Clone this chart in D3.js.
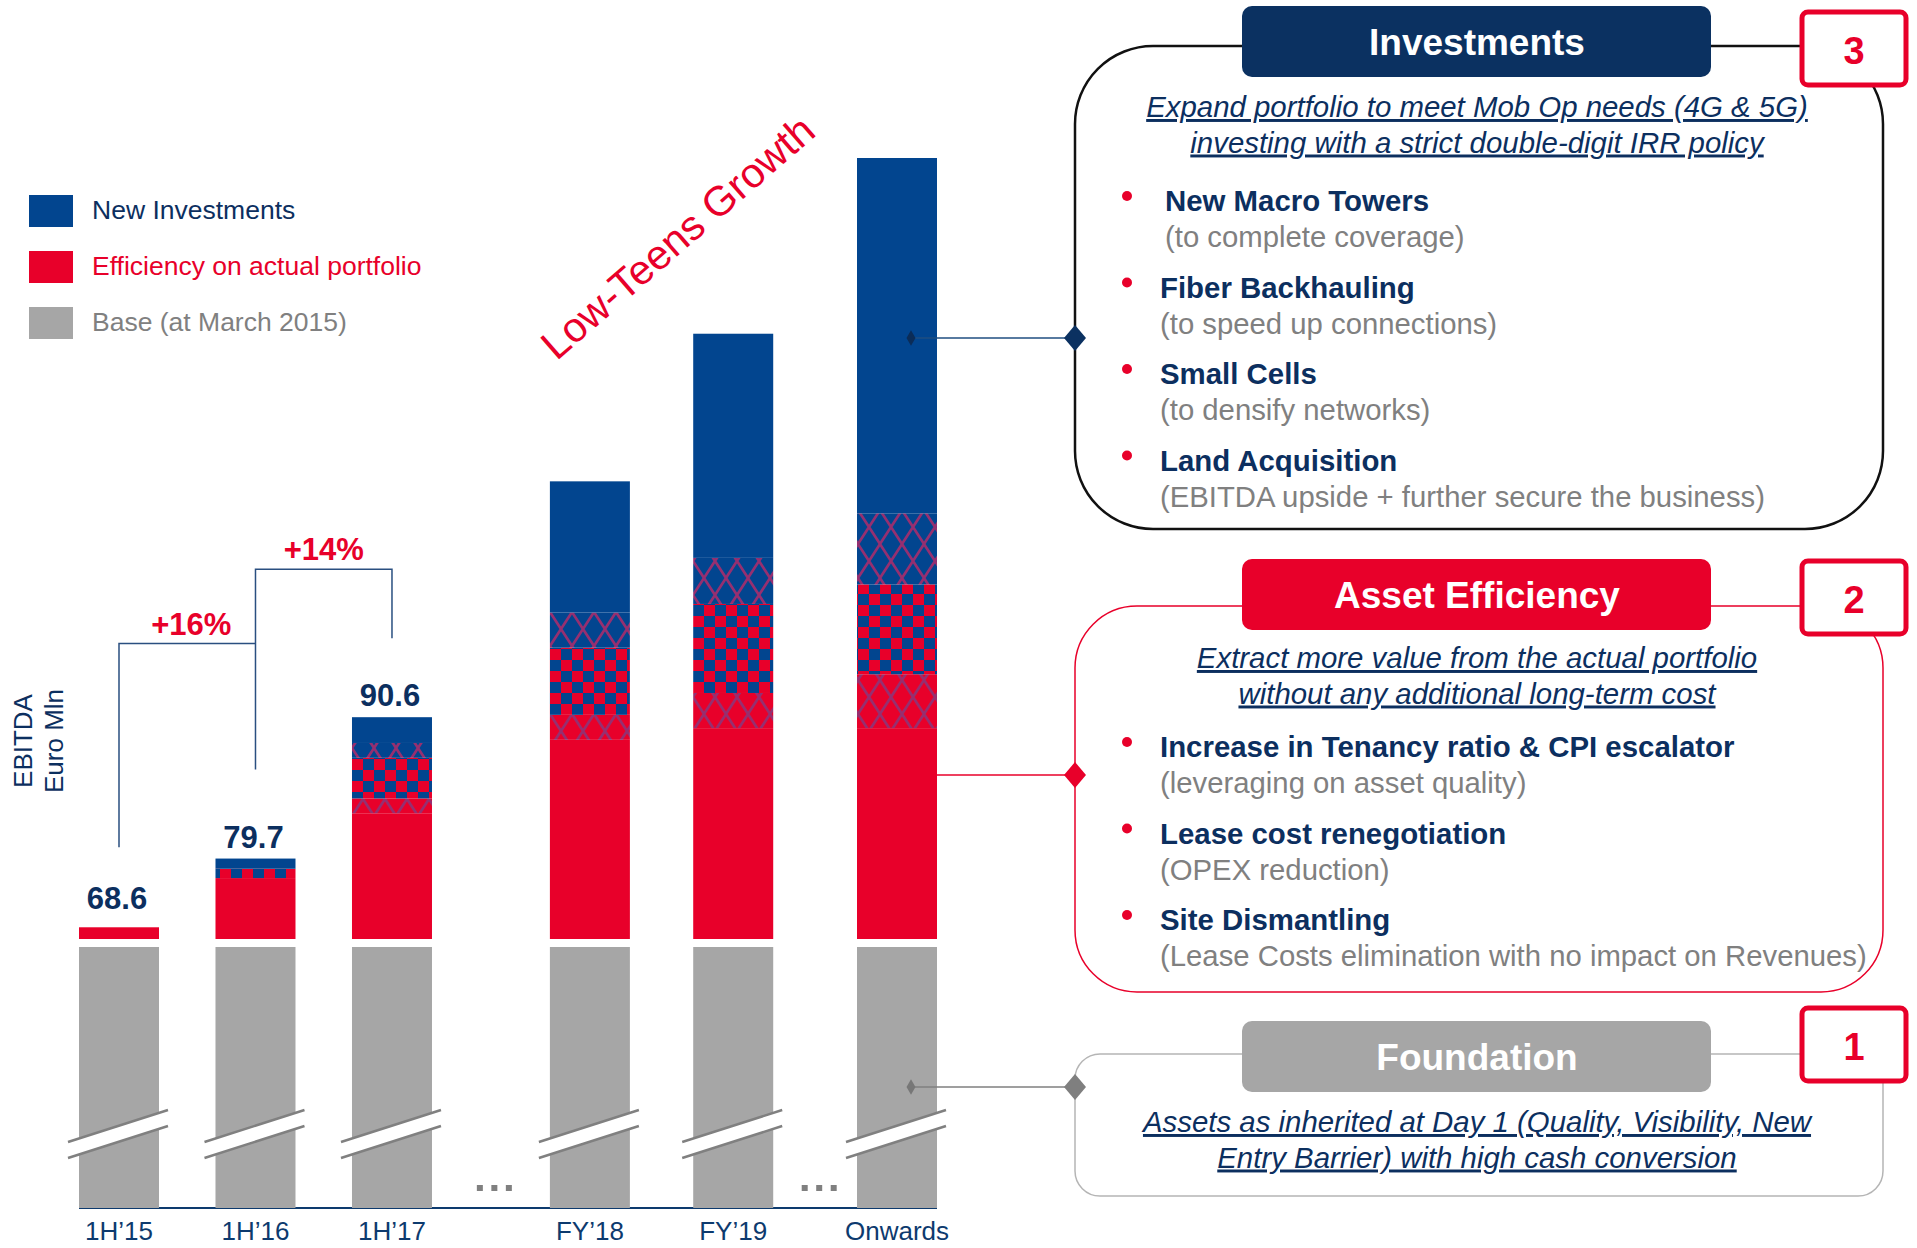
<!DOCTYPE html>
<html>
<head>
<meta charset="utf-8">
<script src="https://cdn.jsdelivr.net/npm/d3@7"></script>
<style>
  body { margin: 0; background: #fff; }
  svg { display: block; font-family: Arial, "Liberation Sans", sans-serif; }
</style>
</head>
<body>
<div id="chart"></div>
<script>
// ---- data ----
var periods = ["1H\u201915", "1H\u201916", "1H\u201917", "FY\u201918", "FY\u201919", "Onwards"];
var slots = [0, 1, 2, 3.45, 4.5, 5.7];          // position on the (broken) time axis
var gapSlots = [2.75, 5.13];                    // where the "..." sit
var ebitda = ["68.6", "79.7", "90.6", "", "", ""];
// stacked heights in index units (Onwards top = 100), base not to scale
var effSolid = [1.5, 7.8, 16.1, 25.5, 27.0, 27.0];
var effHatch = [0, 0, 1.9, 3.2, 4.5, 6.9];
var mixed    = [0, 1.2, 5.2, 8.6, 11.4, 11.5];
var invHatch = [0, 0, 1.9, 4.5, 5.9, 9.1];
var invSolid = [0, 1.3, 3.3, 16.8, 28.7, 45.5];
var growth = ["+16%", "+14%"];
var legendLabels = ["New Investments", "Efficiency on actual portfolio", "Base (at March 2015)"];

var pillarTitles = ["Investments", "Asset Efficiency", "Foundation"];
var pillarNums = ["3", "2", "1"];
var pillarIntro = [
  ["Expand portfolio to meet Mob Op needs (4G & 5G)", "investing with a strict double-digit IRR policy"],
  ["Extract more value from the actual portfolio", "without any additional long-term cost"],
  ["Assets as inherited at Day 1 (Quality, Visibility, New", "Entry Barrier) with high cash conversion"]
];
var pillarItems = [
  ["New Macro Towers", "Fiber Backhauling", "Small Cells", "Land Acquisition"],
  ["Increase in Tenancy ratio & CPI escalator", "Lease cost renegotiation", "Site Dismantling"],
  []
];
var pillarNotes = [
  ["(to complete coverage)", "(to speed up connections)", "(to densify networks)", "(EBITDA upside + further secure the business)"],
  ["(leveraging on asset quality)", "(OPEX reduction)", "(Lease Costs elimination with no impact on Revenues)"],
  []
];

// ---- colours ----
var BLUE = "#02458f", RED = "#e8002a", GREY = "#a6a6a6", NAVY = "#0c2f5f", TXTGREY = "#808080", HATCH = "#962f70";

var W = 1917, H = 1248;
var svg = d3.select("#chart").append("svg").attr("width", W).attr("height", H);

// patterns for the blended segments
var defs = svg.append("defs");
var chk = defs.append("pattern").attr("id", "chk").attr("patternUnits", "userSpaceOnUse")
  .attr("width", 22).attr("height", 22);
chk.append("rect").attr("width", 22).attr("height", 22).attr("fill", RED);
chk.append("rect").attr("width", 11).attr("height", 11).attr("fill", BLUE);
chk.append("rect").attr("x", 11).attr("y", 11).attr("width", 11).attr("height", 11).attr("fill", BLUE);

function hatch(id, bg) {
  var p = defs.append("pattern").attr("id", id).attr("patternUnits", "userSpaceOnUse")
    .attr("width", 22).attr("height", 34);
  p.append("rect").attr("width", 22).attr("height", 34).attr("fill", bg);
  p.append("path").attr("d", "M0,0L22,34M22,0L0,34").attr("stroke", HATCH).attr("stroke-width", 2.6);
}
hatch("xhB", BLUE);
hatch("xhR", RED);

var keys = ["effSolid", "effHatch", "mixed", "invHatch", "invSolid"];
var fills = { effSolid: RED, effHatch: "url(#xhR)", mixed: "url(#chk)", invHatch: "url(#xhB)", invSolid: BLUE };

var rows = periods.map(function (p, i) {
  return { period: p, slot: slots[i], label: ebitda[i],
    effSolid: effSolid[i], effHatch: effHatch[i], mixed: mixed[i], invHatch: invHatch[i], invSolid: invSolid[i] };
});
rows.forEach(function (r) { r.total = d3.sum(keys, function (k) { return r[k]; }); });

var x = d3.scaleLinear().domain([0, 5.7]).range([119, 897]);
var y = d3.scaleLinear().domain([0, 100]).range([939, 158]);
var barW = 80;
var baseTop = y(0) + 8, baseBottom = 1208;

// axis line
svg.append("line").attr("x1", x(0) - barW / 2).attr("x2", x(5.7) + barW / 2)
  .attr("y1", baseBottom).attr("y2", baseBottom).attr("stroke", "#0d3a6e").attr("stroke-width", 2);

// grey base (broken)
var base = svg.append("g");
base.selectAll("rect").data(rows).enter().append("rect")
  .attr("x", function (d) { return x(d.slot) - barW / 2; })
  .attr("y", baseTop).attr("width", barW).attr("height", baseBottom - baseTop)
  .attr("fill", GREY);
var brk = base.selectAll("g.brk").data(rows).enter().append("g").attr("class", "brk");
brk.append("path")
  .attr("d", function (d) { var c = x(d.slot);
    return "M" + (c - 51) + ",1142L" + (c + 49) + ",1110L" + (c + 49) + ",1126L" + (c - 51) + ",1158Z"; })
  .attr("fill", "#fff");
brk.append("path")
  .attr("d", function (d) { var c = x(d.slot);
    return "M" + (c - 51) + ",1142L" + (c + 49) + ",1110M" + (c - 51) + ",1158L" + (c + 49) + ",1126"; })
  .attr("stroke", "#808080").attr("stroke-width", 2.5).attr("fill", "none");

// dots
gapSlots.forEach(function (s) {
  svg.append("g").selectAll("rect").data([-1, 0, 1]).enter().append("rect")
    .attr("x", function (k) { return x(s) + k * 14.5 - 3; }).attr("y", 1185)
    .attr("width", 6).attr("height", 6).attr("fill", "#808080");
});

// stacked bars
var series = d3.stack().keys(keys)(rows);
svg.append("g").selectAll("g").data(series).enter().append("g")
  .attr("fill", function (d) { return fills[d.key]; })
  .selectAll("rect").data(function (d) { return d; }).enter().append("rect")
  .attr("x", function (d) { return x(d.data.slot) - barW / 2; })
  .attr("width", barW)
  .attr("y", function (d) { return y(d[1]); })
  .attr("height", function (d) { return y(d[0]) - y(d[1]); });

// value labels
svg.append("g").selectAll("text").data(rows.filter(function (d) { return d.label; })).enter().append("text")
  .attr("x", function (d) { return x(d.slot) - 2; })
  .attr("y", function (d, i) { return y(d.total) - (i === 0 ? 18 : 11); })
  .attr("text-anchor", "middle").attr("font-size", 31).attr("font-weight", "bold").attr("fill", NAVY)
  .text(function (d) { return d.label; });

// x labels
svg.append("g").selectAll("text").data(rows).enter().append("text")
  .attr("x", function (d) { return x(d.slot); }).attr("y", 1240)
  .attr("text-anchor", "middle").attr("font-size", 26).attr("fill", "#0d3a6e")
  .text(function (d) { return d.period; });

// growth brackets
var tops = rows.map(function (d) { return y(d.total); });
var x0 = x(slots[0]), x1 = x(slots[1]), x2 = x(slots[2]);
var lvl1 = tops[1] - 215, lvl2 = tops[2] - 148;
var br = svg.append("g").attr("fill", "none").attr("stroke", "#2a4f80").attr("stroke-width", 1.5);
br.append("path").attr("d", "M" + x0 + "," + (tops[0] - 80) + "V" + lvl1 + "H" + x1);
br.append("path").attr("d", "M" + x1 + "," + (tops[1] - 89) + "V" + lvl2 + "H" + x2 + "V" + (tops[2] - 79));
svg.append("text").attr("x", (x0 + x1) / 2 + 4).attr("y", lvl1 - 9).attr("text-anchor", "middle")
  .attr("font-size", 31).attr("font-weight", "bold").attr("fill", RED).text(growth[0]);
svg.append("text").attr("x", (x1 + x2) / 2).attr("y", lvl2 - 9).attr("text-anchor", "middle")
  .attr("font-size", 31).attr("font-weight", "bold").attr("fill", RED).text(growth[1]);

// y label
svg.append("text").attr("transform", "translate(32,741) rotate(-90)").attr("text-anchor", "middle")
  .attr("font-size", 26).attr("fill", NAVY).text("EBITDA");
svg.append("text").attr("transform", "translate(63,741) rotate(-90)").attr("text-anchor", "middle")
  .attr("font-size", 26).attr("fill", NAVY).text("Euro Mln");

// legend
var legColors = [BLUE, RED, GREY], legText = [NAVY, RED, TXTGREY];
var leg = svg.append("g").selectAll("g").data(legendLabels).enter().append("g")
  .attr("transform", function (d, i) { return "translate(29," + (195 + i * 56) + ")"; });
leg.append("rect").attr("width", 44).attr("height", 32).attr("fill", function (d, i) { return legColors[i]; });
leg.append("text").attr("x", 63).attr("y", 24).attr("font-size", 26.5)
  .attr("fill", function (d, i) { return legText[i]; }).text(function (d) { return d; });

// diagonal tagline
svg.append("text").attr("transform", "translate(687,248) rotate(-41)").attr("text-anchor", "middle")
  .attr("font-size", 41.5).attr("fill", RED).text("Low-Teens Growth");

// ---- right-hand pillars ----
var pl = 1075, pr = 1883, cx = 1477;
var panelTop = [46, 606, 1054], panelBot = [529, 992, 1196], panelR = [78, 62, 25];
var boxTop = [6, 559, 1021], numTop = [12, 561, 1008], diaY = [338, 775, 1087];
var boxFill = ["#0b3161", RED, GREY], panelStroke = ["#111", RED, "#b5b5b5"], panelSW = [2.5, 1.5, 1.5];
var diaFill = ["#0b3161", RED, "#7f7f7f"];
var introY = [117, 668, 1132], itemY = [211, 757];
var barRight = x(5.7) + barW / 2;
var connStart = [barRight - 26, barRight, barRight - 26];

pillarTitles.forEach(function (t, i) {
  var g = svg.append("g");
  // connector from the Onwards bar
  g.append("line").attr("x1", connStart[i]).attr("x2", pl).attr("y1", diaY[i]).attr("y2", diaY[i])
    .attr("stroke", i === 0 ? "#1f4e80" : diaFill[i]).attr("stroke-width", 1.5);
  if (i !== 1) {
    g.append("path").attr("d", d3.symbol(d3.symbolDiamond, 70)).attr("transform", "translate(" + connStart[i] + "," + diaY[i] + ")")
      .attr("fill", i === 0 ? "#0b2c57" : "#777");
  }
  g.append("rect").attr("x", pl).attr("y", panelTop[i]).attr("width", pr - pl)
    .attr("height", panelBot[i] - panelTop[i]).attr("rx", panelR[i])
    .attr("fill", "none").attr("stroke", panelStroke[i]).attr("stroke-width", panelSW[i]);
  g.append("path").attr("d", "M0,-13L11,0L0,13L-11,0Z").attr("transform", "translate(" + pl + "," + diaY[i] + ")")
    .attr("fill", diaFill[i]);
  // title box
  g.append("rect").attr("x", 1242).attr("y", boxTop[i]).attr("width", 469).attr("height", 71).attr("rx", 10)
    .attr("fill", boxFill[i]);
  g.append("text").attr("x", cx).attr("y", boxTop[i] + 49).attr("text-anchor", "middle")
    .attr("font-size", 37).attr("font-weight", "bold").attr("fill", "#fff").text(t);
  // number box
  g.append("rect").attr("x", 1802).attr("y", numTop[i]).attr("width", 104).attr("height", 73).attr("rx", 6)
    .attr("fill", "#fff").attr("stroke", RED).attr("stroke-width", 5);
  g.append("text").attr("x", 1854).attr("y", numTop[i] + 52).attr("text-anchor", "middle")
    .attr("font-size", 38).attr("font-weight", "bold").attr("fill", RED).text(pillarNums[i]);
  // intro
  pillarIntro[i].forEach(function (line, j) {
    g.append("text").attr("x", cx).attr("y", introY[i] + j * 35.5).attr("text-anchor", "middle")
      .attr("font-size", 29.4).attr("font-style", "italic").attr("text-decoration", "underline")
      .attr("fill", NAVY).text(line);
  });
  // bullets
  pillarItems[i].forEach(function (item, j) {
    var by = itemY[i] + j * 86.5;
    var tx = (i === 0 && j === 0) ? 1165 : 1160;
    g.append("circle").attr("cx", 1127).attr("cy", by - 15).attr("r", 5).attr("fill", RED);
    g.append("text").attr("x", tx).attr("y", by).attr("font-size", 29.4).attr("font-weight", "bold")
      .attr("fill", NAVY).text(item);
    g.append("text").attr("x", tx).attr("y", by + 36).attr("font-size", 29.3)
      .attr("fill", TXTGREY).text(pillarNotes[i][j]);
  });
});
</script>
</body>
</html>
